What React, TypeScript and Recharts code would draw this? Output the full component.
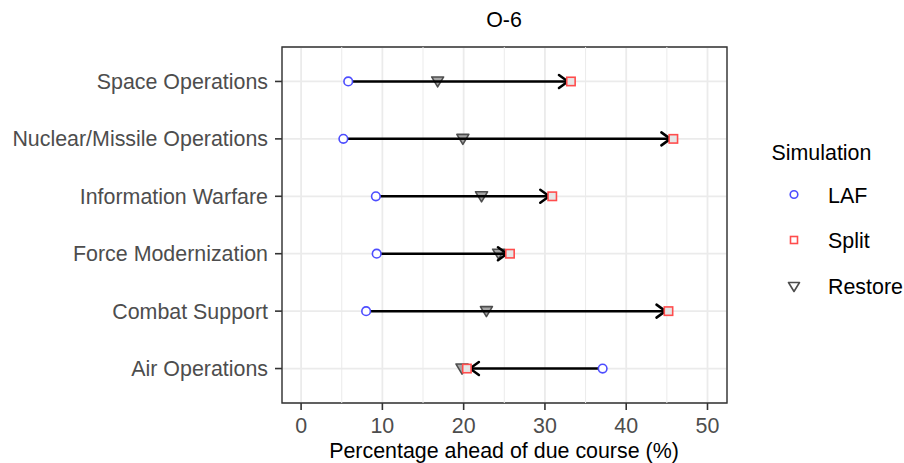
import React from 'react';
import {
  ScatterChart,
  Scatter,
  XAxis,
  YAxis,
  CartesianGrid,
  ReferenceLine,
  ReferenceArea,
  Legend,
} from 'recharts';

// ---- data ----
const categories = [
  'Air Operations',
  'Combat Support',
  'Force Modernization',
  'Information Warfare',
  'Nuclear/Missile Operations',
  'Space Operations',
];
const lafValues = [37.1, 8.0, 9.3, 9.2, 5.2, 5.8];
const splitValues = [20.4, 45.2, 25.7, 30.9, 45.8, 33.2];
const restoreValues = [19.8, 22.8, 24.3, 22.2, 19.9, 16.8];
const xTicks = [0, 10, 20, 30, 40, 50];
const xMinorTicks = [5, 15, 25, 35, 45];
const yTicks = [1, 2, 3, 4, 5, 6];
const seriesNames = ['LAF', 'Split', 'Restore'];

const BLUE = '#4d4dff';
const RED = '#ff4d4d';
const GREY_STROKE = '#4d4d4d';
const GREY_FILL = '#a6a6a6';
const FONT = '"Liberation Sans", Arial, Helvetica, sans-serif';
const FS = 21.4;

const lafData = lafValues.map((v, i) => ({ x: v, y: i + 1 }));
const splitData = splitValues.map((v, i) => ({ x: v, y: i + 1 }));
const restoreData = restoreValues.map((v, i) => ({ x: v, y: i + 1 }));
const arrowData = categories.map((_, i) => [
  { x: lafValues[i], y: i + 1, end: false, dir: 0 },
  { x: splitValues[i], y: i + 1, end: true, dir: Math.sign(splitValues[i] - lafValues[i]) },
]);

const CircleShape = (p: any) => (
  <circle cx={p.cx} cy={p.cy} r={4.3} fill="#ffffff" stroke={BLUE} strokeWidth={1.6} />
);
const SquareShape = (p: any) => (
  <rect x={p.cx - 4.2} y={p.cy - 4.2} width={8.4} height={8.4} fill="#e6e6e6" stroke={RED} strokeWidth={1.6} />
);
const TriangleShape = (p: any) => (
  <path
    d={`M${p.cx - 6},${p.cy - 4.5} L${p.cx + 6},${p.cy - 4.5} L${p.cx},${p.cy + 5.5} Z`}
    fill={GREY_FILL}
    stroke={GREY_STROKE}
    strokeWidth={1.6}
    strokeLinejoin="round"
  />
);
const ArrowEndShape = (p: any) => {
  const pl = p.payload || {};
  if (!pl.end) return <g />;
  const d = pl.dir || 1;
  const tipX = p.cx - d * 3;
  const len = 9;
  const half = 6.5;
  return (
    <path
      d={`M${tipX - d * len},${p.cy - half} L${tipX},${p.cy} L${tipX - d * len},${p.cy + half}`}
      fill="none"
      stroke="#000"
      strokeWidth={2.5}
      strokeLinecap="round"
      strokeLinejoin="round"
    />
  );
};

const LegendContent = () => (
  <svg width={150} height={180} style={{ fontFamily: FONT }}>
    <text x={11.5} y={30} fontSize={FS} fill="#000">Simulation</text>
    <circle cx={34} cy={64.5} r={3.8} fill="#fff" stroke={BLUE} strokeWidth={1.6} />
    <text x={68} y={72.5} fontSize={FS} fill="#000">{seriesNames[0]}</text>
    <rect x={30.5} y={106.5} width={7} height={7} fill="#fff" stroke={RED} strokeWidth={1.6} />
    <text x={68} y={118} fontSize={FS} fill="#000">{seriesNames[1]}</text>
    <path d="M28.5,152.5 L39.5,152.5 L34,161.5 Z" fill="none" stroke={GREY_STROKE} strokeWidth={1.6} strokeLinejoin="round" />
    <text x={68} y={164} fontSize={FS} fill="#000">{seriesNames[2]}</text>
  </svg>
);

export default function App() {
  return (
    <div style={{ position: 'absolute', left: 0, top: 0, width: 904, height: 463, background: '#fff', fontFamily: FONT }}>
      <ScatterChart width={904} height={463} margin={{ top: 47, right: 177, bottom: 0, left: 0 }}>
        <CartesianGrid stroke="#ebebeb" strokeWidth={1.8} />
        {xMinorTicks.map((v) => (
          <ReferenceLine key={'m' + v} x={v} stroke="#ebebeb" strokeWidth={1} />
        ))}
        <XAxis
          type="number"
          dataKey="x"
          domain={[-2.35, 52.4]}
          ticks={xTicks}
          allowDataOverflow
          axisLine={false}
          tickSize={7}
          tickMargin={8}
          tickLine={{ stroke: '#333333', strokeWidth: 1.6 }}
          tick={{ fill: '#4d4d4d', fontSize: FS }}
          height={60}
          interval={0}
        />
        <YAxis
          type="number"
          dataKey="y"
          domain={[0.4, 6.6]}
          ticks={yTicks}
          allowDataOverflow
          axisLine={false}
          tickSize={7}
          tickMargin={7}
          tickLine={{ stroke: '#333333', strokeWidth: 1.6 }}
          tick={{ fill: '#4d4d4d', fontSize: FS }}
          tickFormatter={(v: number) => categories[v - 1] ?? ''}
          width={282}
          interval={0}
        />
        <ReferenceArea
          x1={-2.35}
          x2={52.4}
          y1={0.4}
          y2={6.6}
          fill="none"
          fillOpacity={0}
          stroke="#333333"
          strokeWidth={1.4}
          ifOverflow="visible"
        />
        <Scatter name="Restore" data={restoreData} shape={TriangleShape} isAnimationActive={false} />
        {arrowData.map((d, i) => (
          <Scatter
            key={'a' + i}
            name={'arrow' + i}
            data={d}
            line={{ stroke: '#000', strokeWidth: 2.5 }}
            lineType="joint"
            shape={ArrowEndShape}
            isAnimationActive={false}
            legendType="none"
          />
        ))}
        <Scatter name="Split" data={splitData} shape={SquareShape} isAnimationActive={false} />
        <Scatter name="LAF" data={lafData} shape={CircleShape} isAnimationActive={false} />
        <Legend
          layout="horizontal"
          verticalAlign="middle"
          align="center"
          content={LegendContent}
          wrapperStyle={{ position: 'absolute', left: 760, top: 130, width: 150, height: 180 }}
        />
      </ScatterChart>
      <svg
        width={904}
        height={463}
        style={{ position: 'absolute', left: 0, top: 0, pointerEvents: 'none', fontFamily: FONT }}
      >
        <text x={504} y={26.5} textAnchor="middle" fontSize={FS} fill="#000">O-6</text>
        <text x={504} y={458} textAnchor="middle" fontSize={FS} fill="#000">Percentage ahead of due course (%)</text>
      </svg>
    </div>
  );
}
